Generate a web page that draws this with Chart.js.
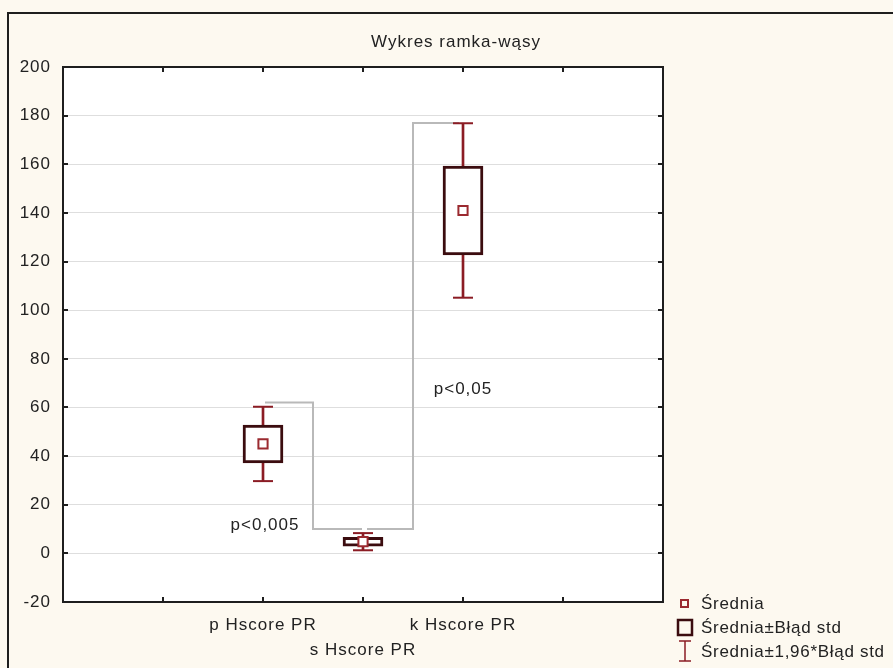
<!DOCTYPE html>
<html>
<head>
<meta charset="utf-8">
<script src="https://cdn.jsdelivr.net/npm/chart.js@4.4.0/dist/chart.umd.min.js"></script>
<style>
  html, body { margin: 0; padding: 0; background: #fdf9f0; }
  canvas { display: block; }
</style>
</head>
<body>
<canvas id="boxChart" width="893" height="668"></canvas>
<script>
// values
var categories = ['p Hscore PR', 's Hscore PR', 'k Hscore PR'];
var catPos = [2, 3, 4];
var means = [45, 4.8, 141];
var stdErr = [7.8, 1.8, 18.3];
var yTicks = [-20, 0, 20, 40, 60, 80, 100, 120, 140, 160, 180, 200];
// bracket heights between neighbouring groups: [start, bottom/top]
var bracketLevels = [[62, 10], [10, 177]];
var pLabels = ['p<0,005', 'p<0,05'];
var legendLabels = ['Średnia', 'Średnia±Błąd std', 'Średnia±1,96*Błąd std'];
var title = 'Wykres ramka-wąsy';

var FONT = "'Liberation Sans', Arial, sans-serif";
var WHISK = '#8b1c24';
var BOXC = '#3b0c0f';

var boxData = catPos.map(function (x, i) { return { x: x, y: [means[i] - stdErr[i], means[i] + stdErr[i]] }; });
var stemData = catPos.map(function (x, i) { return { x: x, y: [means[i] - 1.96 * stdErr[i], means[i] + 1.96 * stdErr[i]] }; });
var capData = [];
catPos.forEach(function (x, i) {
  capData.push({ x: x, y: means[i] - 1.96 * stdErr[i] });
  capData.push({ x: x, y: means[i] + 1.96 * stdErr[i] });
});
var meanData = catPos.map(function (x, i) { return { x: x, y: means[i] }; });

function bracket(i) {
  var a = catPos[i], b = catPos[i + 1], mid = (a + b) / 2;
  var h = bracketLevels[i];
  return [{ x: a + (i === 0 ? 0.02 : 0.04), y: h[0] }, { x: mid, y: h[0] }, { x: mid, y: h[1] }, { x: b - (i === 0 ? 0.01 : 0.04), y: h[1] }];
}

var decor = {
  id: 'decor',
  beforeDraw: function (chart) {
    var c = chart.ctx, a = chart.chartArea;
    c.save();
    c.fillStyle = '#fdf9f0';
    c.fillRect(0, 0, chart.width, chart.height);
    c.fillStyle = '#ffffff';
    c.fillRect(a.left, a.top, a.right - a.left, a.bottom - a.top);
    c.strokeStyle = '#1e1e1e';
    c.lineWidth = 2;
    c.beginPath();
    c.moveTo(8, chart.height + 5);
    c.lineTo(8, 13);
    c.lineTo(chart.width + 5, 13);
    c.stroke();
    c.restore();
    // the reference text runs a bit wider than Arial
    c.letterSpacing = '1px';
  },
  afterDraw: function (chart) {
    var c = chart.ctx, a = chart.chartArea;
    var xs = chart.scales.x, ys = chart.scales.y;
    c.save();
    c.strokeStyle = '#1e1e1e';
    c.lineWidth = 2;
    c.strokeRect(a.left, a.top, a.right - a.left, a.bottom - a.top);
    c.beginPath();
    yTicks.forEach(function (v) {
      var py = Math.round(ys.getPixelForValue(v));
      c.moveTo(a.left, py); c.lineTo(a.left + 5, py);
      c.moveTo(a.right, py); c.lineTo(a.right - 5, py);
    });
    for (var t = 1; t < 6; t++) {
      var px = Math.round(xs.getPixelForValue(t));
      c.moveTo(px, a.top); c.lineTo(px, a.top + 5);
      c.moveTo(px, a.bottom); c.lineTo(px, a.bottom - 5);
    }
    c.stroke();

    c.fillStyle = '#222';
    c.textAlign = 'center';
    c.textBaseline = 'middle';
    c.font = '17px ' + FONT;
    c.fillText(title, 456, 42);

    c.fillText(pLabels[0], xs.getPixelForValue(2.02), ys.getPixelForValue(11.5));
    c.fillText(pLabels[1], xs.getPixelForValue(4.0), ys.getPixelForValue(67.5));

    // legend
    c.letterSpacing = '0.7px';
    c.textAlign = 'left';
    c.fillText(legendLabels[0], 701, 604);
    c.fillText(legendLabels[1], 701, 628);
    c.fillText(legendLabels[2], 701, 652);
    c.lineWidth = 2;
    c.strokeStyle = '#9b2a30';
    c.strokeRect(681, 600, 7, 7);
    c.strokeStyle = BOXC;
    c.lineWidth = 2.5;
    c.strokeRect(678, 620, 14, 15);
    c.strokeStyle = WHISK;
    c.lineWidth = 1.5;
    c.beginPath();
    c.moveTo(685, 641); c.lineTo(685, 661);
    c.moveTo(679, 641); c.lineTo(691, 641);
    c.moveTo(679, 661); c.lineTo(691, 661);
    c.stroke();
    c.restore();
  }
};

var ctx = document.getElementById('boxChart').getContext('2d');
var myChart = new Chart(ctx, {
  type: 'bar',
  data: {
    datasets: [
      {
        type: 'line',
        data: bracket(0),
        borderColor: '#b9b9b9',
        borderWidth: 2,
        pointRadius: 0,
        order: 7
      },
      {
        type: 'line',
        data: bracket(1),
        borderColor: '#b9b9b9',
        borderWidth: 2,
        pointRadius: 0,
        order: 7
      },
      {
        data: stemData,
        backgroundColor: WHISK,
        barThickness: 2,
        grouped: false,
        order: 5
      },
      {
        data: boxData,
        backgroundColor: '#ffffff',
        borderColor: BOXC,
        borderWidth: 3,
        borderSkipped: false,
        barThickness: 40,
        grouped: false,
        order: 4
      },
      {
        type: 'line',
        data: capData,
        showLine: false,
        pointStyle: 'line',
        pointRadius: 10,
        borderColor: WHISK,
        borderWidth: 2,
        order: 2
      },
      {
        type: 'line',
        data: meanData,
        showLine: false,
        pointStyle: 'rect',
        pointRadius: 6.5,
        backgroundColor: '#ffffff',
        borderColor: '#9b2a30',
        borderWidth: 2,
        order: 1
      }
    ]
  },
  options: {
    responsive: false,
    animation: false,
    events: [],
    layout: { padding: { left: 0, top: 67, right: 230, bottom: 0 } },
    plugins: {
      legend: { display: false },
      title: { display: false },
      tooltip: { enabled: false }
    },
    scales: {
      x: {
        type: 'linear',
        min: 0,
        max: 6,
        offset: false,
        grid: { display: false, offset: false },
        border: { display: false },
        afterFit: function (s) { s.height = 66; },
        afterBuildTicks: function (s) {
          s.ticks = [0, 1, 2, 3, 4, 5, 6].map(function (v) { return { value: v }; });
        },
        ticks: {
          padding: 3,
          maxRotation: 0,
          autoSkip: false,
          color: '#222',
          font: { family: FONT, size: 17, lineHeight: 1.45 },
          callback: function (v) {
            var i = catPos.indexOf(v);
            if (i < 0) return '';
            return i === 1 ? ['', categories[i]] : categories[i];
          }
        }
      },
      y: {
        min: -20,
        max: 200,
        afterFit: function (s) { s.width = 63; },
        afterBuildTicks: function (s) {
          s.ticks = yTicks.map(function (v) { return { value: v }; });
        },
        grid: { color: '#dedede', lineWidth: 1, drawTicks: false },
        border: { display: false },
        ticks: {
          padding: 12,
          color: '#222',
          font: { family: FONT, size: 17 }
        }
      }
    }
  },
  plugins: [decor]
});
</script>
</body>
</html>
